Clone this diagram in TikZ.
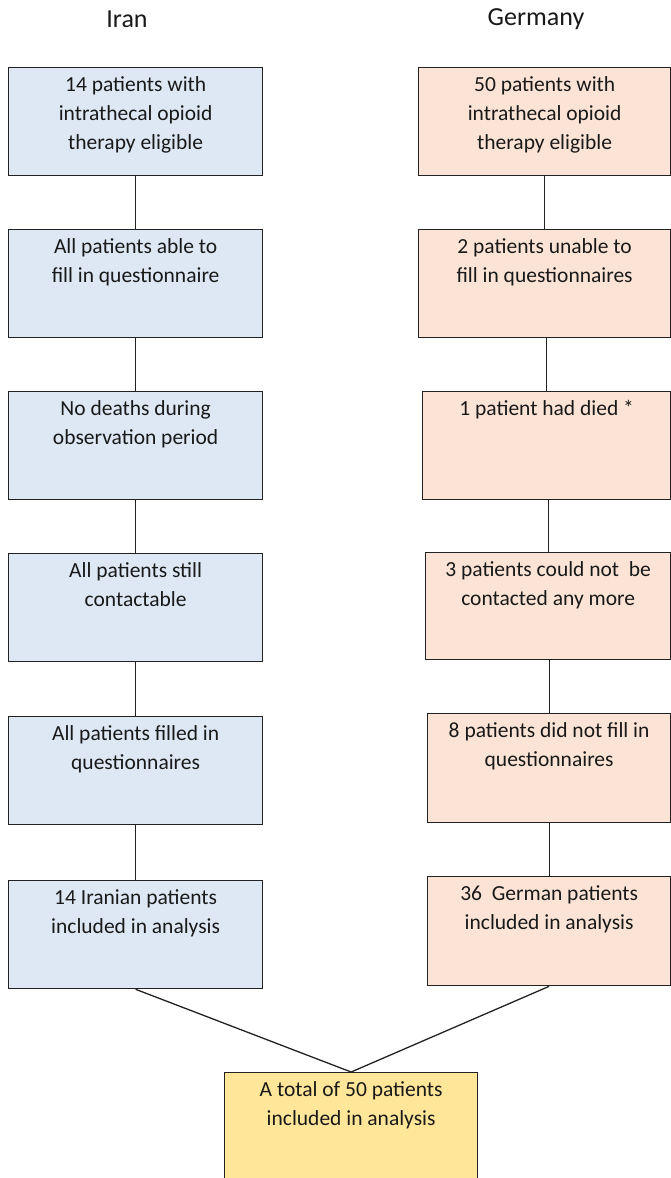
\documentclass[tikz,border=0pt]{standalone}
\usepackage{fontspec}
\setmainfont{Carlito}
\definecolor{iranfill}{HTML}{DEE8F4}
\definecolor{gerfill}{HTML}{FBE4D5}
\definecolor{totfill}{HTML}{FFE699}
\definecolor{edge}{HTML}{222222}
\tikzset{
  box/.style={draw=edge, line width=1.3pt, rectangle, inner sep=0pt, anchor=north west},
  iranbox/.style={box, fill=iranfill},
  gerbox/.style={box, fill=gerfill},
  totbox/.style={box, fill=totfill},
  txt/.style={anchor=north, inner sep=0pt, align=center, text=black!90,
    font=\fontsize{21.5}{29}\selectfont},
  head/.style={inner sep=0pt, text=black!90, font=\fontsize{26}{30}\selectfont},
  conn/.style={draw=edge, line width=1.3pt}
}
\newcommand{\mkbox}[7]{%
  \node[#6, minimum width=#4pt-#2pt, minimum height=#5pt-#3pt] (#1) at (#2,#3) {};
  \node[txt] (#1t) at ([yshift=-9.5pt]#1.north) {#7};
}
\begin{document}
\begin{tikzpicture}[x=1pt,y=-1pt]
\useasboundingbox (0,0) rectangle (671,1178);
\clip (0,0) rectangle (671,1178);
\node[head] (iran) at (127,19) {Iran};
\node[head] (ger) at (536,19) {Germany};
% Iran column
\mkbox{i1}{8}{67}{262}{175}{iranbox}{14 patients with\\intrathecal opioid\\therapy eligible}
\mkbox{i2}{8}{229}{262}{337}{iranbox}{All patients able to\\fill in questionnaire}
\mkbox{i3}{8}{391}{262}{499}{iranbox}{No deaths during\\observation period}
\mkbox{i4}{8}{553}{262}{661}{iranbox}{All patients still\\contactable}
\mkbox{i5}{8}{716}{262}{824}{iranbox}{All patients filled in\\questionnaires}
\mkbox{i6}{8}{880}{262}{988}{iranbox}{14 Iranian patients\\included in analysis}
% Germany column
\mkbox{g1}{418}{67}{670}{175}{gerbox}{50 patients with\\intrathecal opioid\\therapy eligible}
\mkbox{g2}{418}{229}{670}{337}{gerbox}{2 patients unable to\\fill in questionnaires}
\mkbox{g3}{422}{391}{670}{499}{gerbox}{1 patient had died *}
\mkbox{g4}{425}{552}{670}{659}{gerbox}{3 patients could not\ \ be\\contacted any more}
\mkbox{g5}{427}{713}{670}{822}{gerbox}{8 patients did not fill in\\questionnaires}
\mkbox{g6}{427}{876}{670}{985}{gerbox}{36\ \ German patients\\included in analysis}
% total
\mkbox{tot}{224}{1072}{477}{1190}{totbox}{A total of 50 patients\\included in analysis}
% connectors
\foreach \a/\b in {i1/i2,i2/i3,i3/i4,i4/i5,i5/i6}{
  \draw[conn] (\a.south) -- (\b.north);
}
\foreach \a/\b in {g1/g2,g2/g3,g3/g4,g4/g5,g5/g6}{
  \draw[conn] (\b.north) -- (\b.north |- \a.south);
}
\draw[conn] (i6.south) -- (tot.north) -- (g6.south);
\end{tikzpicture}
\end{document}
